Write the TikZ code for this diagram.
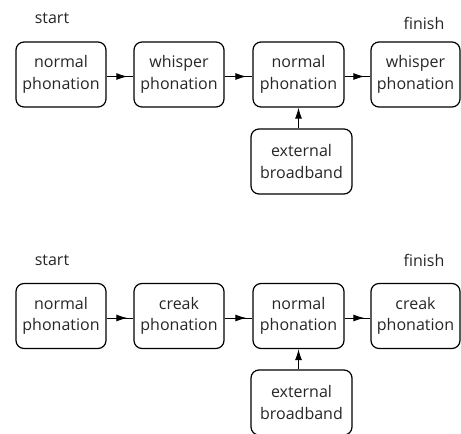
\documentclass[tikz,border=0pt]{standalone}
\usepackage{fontspec}
\setmainfont{Open Sans}
\usetikzlibrary{arrows.meta,decorations.markings}
\begin{document}
\begin{tikzpicture}[x=1pt,y=-1pt,
  stagebox/.style={draw, line width=1.2pt, rounded corners=8pt, minimum height=65pt,
    align=center, font=\fontsize{16}{21.5}\selectfont, inner sep=0pt, text=black!85},
  lbl/.style={font=\fontsize{16}{18}\selectfont, text=black!85},
  flow/.style={line width=1pt, postaction={decorate}, decoration={markings,
    mark=at position 1 with {\arrow[xshift=-6pt]{Latex[length=11pt,width=7pt]}}}},
  feed/.style={line width=1pt, -{Latex[length=11pt,width=7pt]}}]
\useasboundingbox (0,0) rectangle (461,434);

% upper sequence: normal -> whisper -> normal (+ noise) -> whisper
\node[lbl] (s1) at (52,18) {start};
\node[lbl] (f1) at (424,23) {finish};
\node[stagebox, minimum width=90pt] (a1) at (61,74.5) {normal\\phonation};
\node[stagebox, minimum width=90pt] (a2) at (179,74.5) {whisper\\phonation};
\node[stagebox, minimum width=91pt] (a3) at (298.5,74.5) {normal\\phonation};
\node[stagebox, minimum width=89pt] (a4) at (415.5,74.5) {whisper\\phonation};
\node[stagebox, minimum width=101pt] (n1) at (301.5,161.5) {external\\broadband};
\draw[flow] ([yshift=-2pt]a1.east) -- ([yshift=-2pt]a2.west);
\draw[flow] ([yshift=-2pt]a2.east) -- ([yshift=-2pt]a3.west);
\draw[flow] ([yshift=-2pt]a3.east) -- ([yshift=-2pt]a4.west);
\draw[feed] (n1.north -| a3.south) -- (a3.south);

% lower sequence: normal -> creak -> normal (+ noise) -> creak
\node[lbl] (s2) at (52,260) {start};
\node[lbl] (f2) at (424,260) {finish};
\node[stagebox, minimum width=90pt] (b1) at (61,316) {normal\\phonation};
\node[stagebox, minimum width=90pt] (b2) at (179,316) {creak\\phonation};
\node[stagebox, minimum width=91pt] (b3) at (298.5,316) {normal\\phonation};
\node[stagebox, minimum width=89pt] (b4) at (415.5,316) {creak\\phonation};
\node[stagebox, minimum width=101pt] (n2) at (301.5,402.5) {external\\broadband};
\draw[flow] ([yshift=-2pt]b1.east) -- ([yshift=-2pt]b2.west);
\draw[flow] ([yshift=-2pt]b2.east) -- ([yshift=-2pt]b3.west);
\draw[flow] ([yshift=-2pt]b3.east) -- ([yshift=-2pt]b4.west);
\draw[feed] (n2.north -| b3.south) -- (b3.south);
\end{tikzpicture}
\end{document}
